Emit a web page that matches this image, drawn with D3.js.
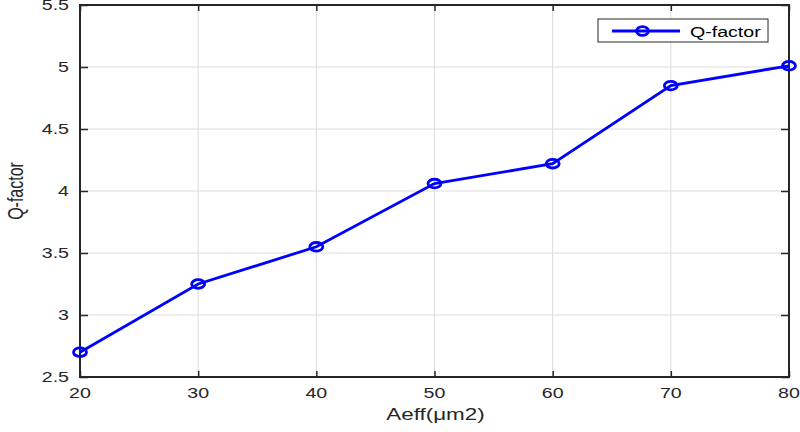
<!DOCTYPE html>
<html>
<head>
<meta charset="utf-8">
<script src="https://cdn.jsdelivr.net/npm/d3@7"></script>
<style>
  html, body { margin: 0; padding: 0; background: #fff; }
  svg { display: block; font-family: "Liberation Sans", Arial, Helvetica, sans-serif; }
</style>
</head>
<body>
<svg id="chart" width="800" height="432"></svg>
<script>
// Effective area (µm²) vs. Q-factor
const aeff = [20, 30, 40, 50, 60, 70, 80];
const qFactor = [2.70, 3.25, 3.55, 4.06, 4.22, 4.85, 5.01];
const xTicks = [20, 30, 40, 50, 60, 70, 80];
const yTicks = [2.5, 3, 3.5, 4, 4.5, 5, 5.5];
const seriesName = "Q-factor";
const xTitle = "Aeff(μm2)";
const yTitle = "Q-factor";

const svg = d3.select("#chart");
const m = { left: 80, right: 11, top: 5, bottom: 55 };
const W = 800, H = 432;
const iw = W - m.left - m.right, ih = H - m.top - m.bottom;
const SX = 1.4;          // horizontal stretch of the lettering
const ink = "#262626";
const blue = "#0000ff";

const x = d3.scaleLinear().domain([20, 80]).range([m.left, m.left + iw]);
const y = d3.scaleLinear().domain([2.5, 5.5]).range([m.top + ih, m.top]);

// grid
const grid = svg.append("g");
grid.selectAll(".gx").data(xTicks).join("line")
  .attr("x1", d => x(d)).attr("x2", d => x(d))
  .attr("y1", m.top).attr("y2", m.top + ih)
  .attr("stroke", "#dcdcdc").attr("stroke-width", 1);
grid.selectAll(".gy").data(yTicks).join("line")
  .attr("x1", m.left).attr("x2", m.left + iw)
  .attr("y1", d => y(d)).attr("y2", d => y(d))
  .attr("stroke", "#dcdcdc").attr("stroke-width", 1);

// inward ticks on all four sides (drawn with the d3 axis generators)
function styleAxis(a) {
  a.select(".domain").remove();
  a.selectAll(".tick line").attr("stroke", ink).attr("stroke-width", 1.5);
  a.selectAll(".tick text").remove();
}
svg.append("g").attr("transform", `translate(0,${m.top + ih})`)
  .call(d3.axisBottom(x).tickValues(xTicks).tickSizeInner(-6).tickSizeOuter(0)).call(styleAxis);
svg.append("g").attr("transform", `translate(0,${m.top})`)
  .call(d3.axisTop(x).tickValues(xTicks).tickSizeInner(-6).tickSizeOuter(0)).call(styleAxis);
svg.append("g").attr("transform", `translate(${m.left},0)`)
  .call(d3.axisLeft(y).tickValues(yTicks).tickSizeInner(-8).tickSizeOuter(0)).call(styleAxis);
svg.append("g").attr("transform", `translate(${m.left + iw},0)`)
  .call(d3.axisRight(y).tickValues(yTicks).tickSizeInner(-8).tickSizeOuter(0)).call(styleAxis);

// tick labels
svg.append("g").selectAll("text").data(xTicks).join("text")
  .attr("transform", d => `translate(${x(d)},398) scale(${SX},1)`)
  .attr("text-anchor", "middle").attr("fill", ink).style("font-size", "14px")
  .text(d => String(d));
svg.append("g").selectAll("text").data(yTicks).join("text")
  .attr("transform", d => `translate(69,${y(d) + 5}) scale(${SX},1)`)
  .attr("text-anchor", "end").attr("fill", ink).style("font-size", "14px")
  .text(d => String(d));

// box
svg.append("rect").attr("x", m.left).attr("y", m.top).attr("width", iw).attr("height", ih)
  .attr("fill", "none").attr("stroke", ink).attr("stroke-width", 2);

// axis titles
svg.append("text").attr("transform", `translate(${x(50) + 1},420) scale(${SX},1)`)
  .attr("text-anchor", "middle").attr("fill", ink).style("font-size", "16px").text(xTitle);
svg.append("text").attr("transform", `translate(23,${y(4)}) rotate(-90) scale(1,${SX})`)
  .attr("text-anchor", "middle").attr("fill", ink).style("font-size", "16px").text(yTitle);

// series
const data = aeff.map((a, i) => ({ a, q: qFactor[i] }));
svg.append("path").datum(data)
  .attr("d", d3.line().x(d => x(d.a)).y(d => y(d.q)))
  .attr("fill", "none").attr("stroke", blue).attr("stroke-width", 2.8);
svg.selectAll(".pt").data(data).join("ellipse")
  .attr("cx", d => x(d.a)).attr("cy", d => y(d.q)).attr("rx", 6.5).attr("ry", 4.3)
  .attr("fill", "none").attr("stroke", blue).attr("stroke-width", 2.8);

// legend
const lg = svg.append("g");
lg.append("rect").attr("x", 598).attr("y", 19).attr("width", 170).attr("height", 23)
  .attr("fill", "#fff").attr("stroke", ink).attr("stroke-width", 1);
lg.append("line").attr("x1", 612).attr("x2", 680).attr("y1", 31).attr("y2", 31)
  .attr("stroke", blue).attr("stroke-width", 2.8);
lg.append("ellipse").attr("cx", 642.5).attr("cy", 31).attr("rx", 6).attr("ry", 4.3)
  .attr("fill", "none").attr("stroke", blue).attr("stroke-width", 2.8);
lg.append("text").attr("transform", `translate(690,37) scale(${SX},1)`).attr("fill", "#000")
  .style("font-size", "14px").text(seriesName);
</script>
</body>
</html>
